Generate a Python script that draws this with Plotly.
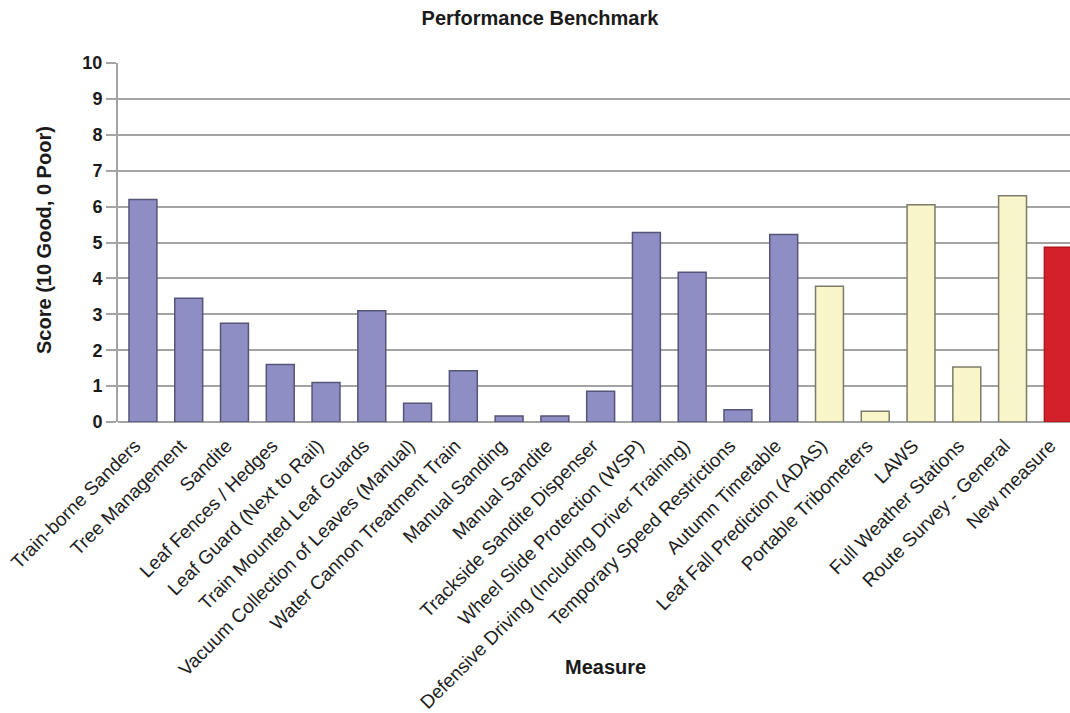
import plotly.graph_objects as go

categories = [
    "Train-borne Sanders", "Tree Management", "Sandite", "Leaf Fences / Hedges",
    "Leaf Guard (Next to Rail)", "Train Mounted Leaf Guards",
    "Vacuum Collection of Leaves (Manual)", "Water Cannon Treatment Train",
    "Manual Sanding", "Manual Sandite", "Trackside Sandite Dispenser",
    "Wheel Slide Protection (WSP)", "Defensive Driving (Including Driver Training)",
    "Temporary Speed Restrictions", "Autumn Timetable", "Leaf Fall Prediction (ADAS)",
    "Portable Tribometers", "LAWS", "Full Weather Stations", "Route Survey - General",
    "New measure",
]
scores = [6.2, 3.45, 2.75, 1.6, 1.1, 3.1, 0.52, 1.43, 0.17, 0.17, 0.86,
          5.28, 4.17, 0.34, 5.22, 3.78, 0.3, 6.05, 1.53, 6.3, 4.87]
groups = ["existing"] * 15 + ["forecast"] * 5 + ["new"]

fill = {"existing": "#8e8ec4", "forecast": "#f8f5c8", "new": "#d3202a"}
edge = {"existing": "#55557a", "forecast": "#7d7b6a", "new": "#b0181f"}

fig = go.Figure(go.Bar(
    x=categories, y=scores, width=0.61,
    marker=dict(color=[fill[g] for g in groups],
                line=dict(color=[edge[g] for g in groups], width=1.5)),
    showlegend=False,
))

font = "Liberation Sans, Arial, sans-serif"
fig.update_layout(
    width=1070, height=713,
    margin=dict(l=118, r=0, t=63, b=291),
    paper_bgcolor="white", plot_bgcolor="white",
    font=dict(family=font, color="#222222"),
    title=dict(text="<b>Performance Benchmark</b>", x=540 / 1070, xanchor="center",
               y=1 - 18 / 713, yanchor="middle", yref="container",
               font=dict(size=20, color="#1a1a1a")),
    xaxis=dict(range=[-0.545, 20.255], tickangle=-45, tickfont=dict(size=19, color="#1e1e1e"),
               showgrid=False, showline=False, ticks="", zeroline=False,
               ticklabelstandoff=8, ticklabelshift=-8),
    yaxis=dict(range=[0, 10], dtick=1, tickfont=dict(size=18, color="#1a1a1a", weight="bold"),
               showgrid=True, gridcolor="#a3a3a3", gridwidth=2,
               showline=True, linecolor="#a3a3a3", linewidth=2,
               ticks="outside", ticklen=10, tickcolor="#a3a3a3", tickwidth=2,
               zeroline=True, zerolinecolor="#a3a3a3", zerolinewidth=2),
    annotations=[
        dict(text="<b>Score (10 Good, 0 Poor)</b>", xref="paper", yref="paper",
             x=-(118 - 44) / 952, y=(422 - 240) / 359, textangle=-90,
             showarrow=False, font=dict(size=20, color="#1a1a1a"),
             xanchor="center", yanchor="middle"),
        dict(text="<b>Measure</b>", xref="paper", yref="paper",
             x=(605 - 118) / 952, y=-(667 - 422) / 359,
             showarrow=False, font=dict(size=20, color="#1a1a1a"),
             xanchor="center", yanchor="middle"),
    ],
)

fig.write_html("out.html")
